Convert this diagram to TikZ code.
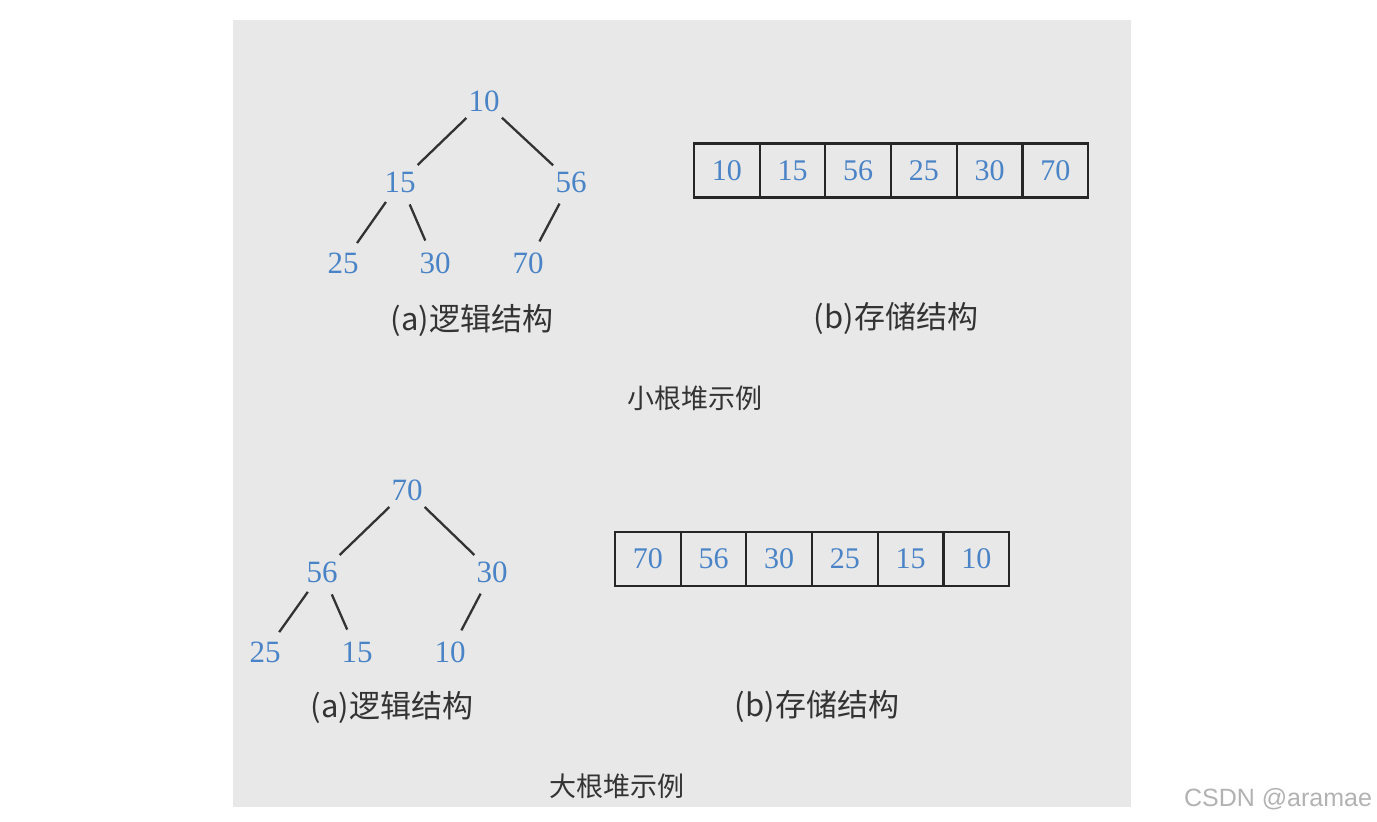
\documentclass[tikz,border=0pt]{standalone}
\usepackage{fontspec}
\setmainfont{Liberation Serif}
\newfontfamily\cjk{Noto Sans CJK SC}
\newfontfamily\wmfont{Liberation Sans}
\usepackage{xcolor}
\usetikzlibrary{positioning}

\definecolor{numblue}{RGB}{74,132,198}
\definecolor{panelgray}{RGB}{232,232,232}

\tikzset{
  key/.style={circle, inner sep=4pt, text=numblue, font=\fontsize{31}{31}\selectfont},
  cell/.style={draw=black!85, line width=2.2pt, minimum width=65.7pt, minimum height=54pt,
    outer sep=0pt, inner sep=0pt, text=numblue, font=\fontsize{30}{30}\selectfont},
  edge/.style={draw=black!80, line width=2.3pt},
  caption/.style={font=\cjk\fontsize{31}{31}\selectfont, text=black!80},
  title/.style={font=\cjk\fontsize{27}{27}\selectfont, text=black!80}
}

\begin{document}
\begin{tikzpicture}[x=1pt, y=-1pt]
    \useasboundingbox (0,0) rectangle (1377,822);
    \fill[panelgray] (233,20) rectangle (1131,807);

    % small root heap: logical structure
    \node (a10) [key] at (484,101) {10};
    \node (a15) [key] at (400,182) {15};
    \node (a56) [key] at (571,182) {56};
    \node (a25) [key] at (343,263) {25};
    \node (a30) [key] at (435,263) {30};
    \node (a70) [key] at (528,263) {70};
    \draw[edge] (a10) -- (a15);
    \draw[edge] (a10) -- (a56);
    \draw[edge] (a15) -- (a25);
    \draw[edge] (a15) -- (a30);
    \draw[edge] (a56) -- (a70);
    \node (acap) [caption] at (472,320) {(a)逻辑结构};

    % small root heap: storage structure
    \node (s1) [cell] at (726.8,170.5) {10};
    \node (s2) [cell, right=0pt of s1] {15};
    \node (s3) [cell, right=0pt of s2] {56};
    \node (s4) [cell, right=0pt of s3] {25};
    \node (s5) [cell, right=0pt of s4] {30};
    \node (s6) [cell, right=0pt of s5] {70};
    \node (scap) [caption] at (896,318) {(b)存储结构};
    \node (small) [title] at (695,398) {小根堆示例};

    % big root heap: logical structure
    \node (b70) [key] at (407,490) {70};
    \node (b56) [key] at (322,572) {56};
    \node (b30) [key] at (492,572) {30};
    \node (b25) [key] at (265,652) {25};
    \node (b15) [key] at (357,652) {15};
    \node (b10) [key] at (450,652) {10};
    \draw[edge] (b70) -- (b56);
    \draw[edge] (b70) -- (b30);
    \draw[edge] (b56) -- (b25);
    \draw[edge] (b56) -- (b15);
    \draw[edge] (b30) -- (b10);
    \node (bcap) [caption] at (392,707) {(a)逻辑结构};

    % big root heap: storage structure
    \node (t1) [cell] at (647.8,559) {70};
    \node (t2) [cell, right=0pt of t1] {56};
    \node (t3) [cell, right=0pt of t2] {30};
    \node (t4) [cell, right=0pt of t3] {25};
    \node (t5) [cell, right=0pt of t4] {15};
    \node (t6) [cell, right=0pt of t5] {10};
    \node (tcap) [caption] at (817,706) {(b)存储结构};
    \node (big) [title] at (617,786) {大根堆示例};

    \node (mark) [font=\wmfont\fontsize{25}{25}\selectfont, text=black!30] at (1278,799) {CSDN @aramae};
\end{tikzpicture}
\end{document}
